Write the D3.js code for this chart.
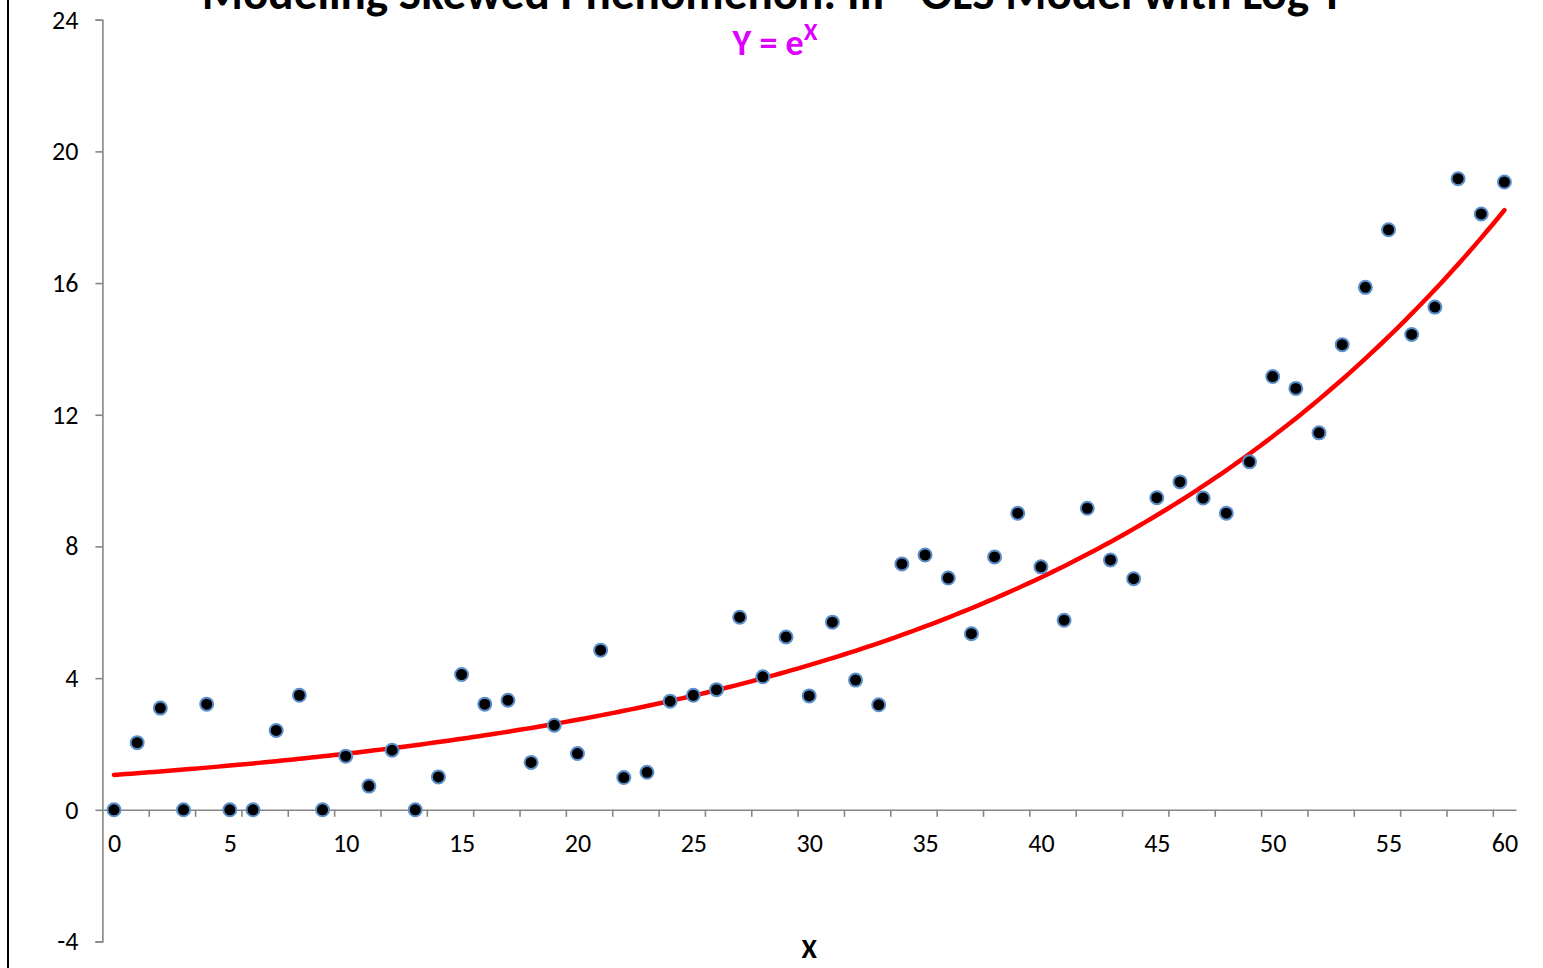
<!DOCTYPE html>
<html>
<head>
<meta charset="utf-8">
<script src="https://cdn.jsdelivr.net/npm/d3@7"></script>
<style>
  html, body { margin: 0; padding: 0; background: #fff; }
  svg { display: block; }
  text { font-family: Carlito, Calibri, "Open Sans", sans-serif; }
</style>
</head>
<body>
<svg id="chart" width="1543" height="968"></svg>
<script>
// Observed values: one per integer X from 0 to 60
const xValues = d3.range(0, 61);
const yValues = [
  0, 2.04, 3.09, 0, 3.21, 0, 0, 2.41, 3.48, 0,
  1.63, 0.72, 1.81, 0, 1.00, 4.11, 3.21, 3.33, 1.44, 2.57,
  1.71, 4.85, 0.98, 1.14, 3.30, 3.48, 3.65, 5.85, 4.04, 5.25,
  3.46, 5.70, 3.94, 3.19, 7.47, 7.74, 7.04, 5.35, 7.68, 9.01,
  7.38, 5.76, 9.16, 7.59, 7.02, 9.48, 9.96, 9.47, 9.01, 10.57,
  13.16, 12.80, 11.45, 14.13, 15.87, 17.62, 14.44, 15.27, 19.17, 18.10,
  19.07
];

// Back-transformed OLS fit of log Y:  Y = fitA * exp(fitB * X)
const fitA = 1.06;
const fitB = 0.0474;

// Axis ticks and labels
const yTickValues = [-4, 0, 4, 8, 12, 16, 20, 24];
const xLabelValues = [0, 5, 10, 15, 20, 25, 30, 35, 40, 45, 50, 55, 60];
const xMarkValues = d3.range(1.5, 60, 2);

const titleText = "Modeling Skewed Phenomenon: III - OLS Model with Log Y";
const xAxisTitle = "X";

const svg = d3.select("#chart");

const x = d3.scaleLinear().domain([-0.5, 60.5]).range([102.4, 1516]);
const y = d3.scaleLinear().domain([-4, 24]).range([941.5, 19.7]);

const axisColor = "#868686";
const tickFont = "26px";
const plainNumber = d => String(d);

// Scale a text's font size so that it spans the given width
function fitWidth(sel, width) {
  const node = sel.node();
  const size = parseFloat(sel.style("font-size"));
  const w = node.getComputedTextLength();
  if (w > 0) sel.style("font-size", (size * width / w) + "px");
  return sel;
}

// Outer frame edge
svg.append("line")
  .attr("x1", 8).attr("x2", 8).attr("y1", 0).attr("y2", 968)
  .attr("stroke", "#000").attr("stroke-width", 2);

// Y axis
const yAxis = svg.append("g")
  .attr("transform", `translate(${x(-0.5)},0)`)
  .call(d3.axisLeft(y).tickValues(yTickValues).tickSize(7).tickPadding(17).tickFormat(plainNumber));
yAxis.select(".domain").attr("stroke", axisColor).attr("stroke-width", 1.6);
yAxis.selectAll(".tick line").attr("stroke", axisColor).attr("stroke-width", 1.6);
yAxis.selectAll(".tick text")
  .attr("fill", "#000").style("font-size", tickFont);

// X axis line with boundary tick marks
const xMarks = svg.append("g")
  .attr("transform", `translate(0,${y(0)})`)
  .call(d3.axisBottom(x).tickValues(xMarkValues).tickSize(7).tickSizeOuter(0).tickFormat(""));
xMarks.select(".domain").attr("stroke", axisColor).attr("stroke-width", 1.6);
xMarks.selectAll(".tick line").attr("stroke", axisColor).attr("stroke-width", 1.6);

// X axis labels
const xLabels = svg.append("g")
  .attr("transform", `translate(0,${y(0)})`)
  .call(d3.axisBottom(x).tickValues(xLabelValues).tickSize(0).tickPadding(24).tickFormat(plainNumber));
xLabels.select(".domain").remove();
xLabels.selectAll(".tick text")
  .attr("fill", "#000").style("font-size", tickFont);

// Fitted curve
const curveX = d3.range(0, 60.001, 0.25);
const line = d3.line()
  .x(d => x(d))
  .y(d => y(fitA * Math.exp(fitB * d)));
svg.append("path")
  .datum(curveX)
  .attr("d", line)
  .attr("fill", "none")
  .attr("stroke", "#ff0000")
  .attr("stroke-width", 4.5)
  .attr("stroke-linecap", "round");

// Observations
svg.append("g")
  .selectAll("circle")
  .data(xValues.map((v, i) => ({ x: v, y: yValues[i] })))
  .join("circle")
  .attr("cx", d => x(d.x))
  .attr("cy", d => y(d.y))
  .attr("r", 6.5)
  .attr("fill", "#000")
  .attr("stroke", "#5a8fcc")
  .attr("stroke-width", 2);

// Titles
const title = svg.append("text")
  .attr("x", 773).attr("y", 9)
  .attr("text-anchor", "middle")
  .style("font-size", "40px").style("font-weight", "bold")
  .attr("fill", "#000")
  .text(titleText);
fitWidth(title, 1143);

const sub = svg.append("text")
  .attr("x", 775).attr("y", 55)
  .attr("text-anchor", "middle")
  .style("font-size", "36px").style("font-weight", "bold")
  .attr("fill", "#dd00ff");
sub.append("tspan").text("Y = e");
sub.append("tspan").attr("dy", -15).style("font-size", "25px").text("X");

svg.append("text")
  .attr("x", x(30)).attr("y", 958)
  .attr("text-anchor", "middle")
  .style("font-size", "28px").style("font-weight", "bold")
  .attr("fill", "#000")
  .text(xAxisTitle);
</script>
</body>
</html>
